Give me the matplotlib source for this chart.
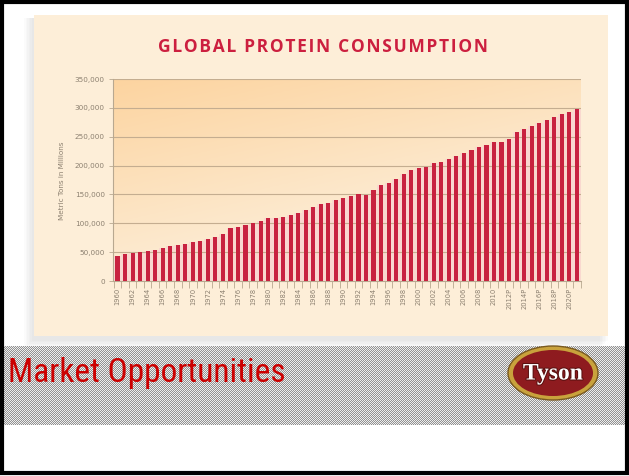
import numpy as np
import matplotlib
matplotlib.use("Agg")
import matplotlib.pyplot as plt
import matplotlib.patches as patches
import matplotlib.patheffects as pe

# data
years = list(range(1960, 2022))
consumption = [
    44000, 46500, 48500, 49500, 51500, 54500, 57500, 60500, 63000, 64500,
    68000, 70000, 73500, 76500, 81500, 92000, 93000, 97000, 100000, 104500,
    108500, 110000, 111500, 114000, 117000, 122500, 127500, 133000, 135500, 139500,
    144500, 148000, 150500, 149500, 158000, 167000, 169500, 177500, 185000, 193000,
    195500, 197500, 204500, 207000, 211000, 217000, 222000, 226500, 233000, 235000,
    241500, 241500, 246000, 258500, 263500, 269000, 273500, 279000, 284000, 289000,
    293500, 298000,
]
tick_labels = [str(y) for y in range(1960, 2011, 2)] + ["2012P", "2014P", "2016P", "2018P", "2020P"]
y_ticks = [0, 50000, 100000, 150000, 200000, 250000, 300000, 350000]

title = "GLOBAL PROTEIN CONSUMPTION"
y_label = "Metric Tons in Millions"
slide_title = "Market Opportunities"

W, H = 629, 476
fig = plt.figure(figsize=(W / 100, H / 100), dpi=100)
fig.patch.set_facecolor("white")

# slide layer in pixel coordinates
bg = fig.add_axes([0, 0, 1, 1])
bg.set_xlim(0, W)
bg.set_ylim(H, 0)
bg.axis("off")

# soft shadow of the chart picture
for k in range(6):
    bg.add_patch(patches.Rectangle((34 - 10 + k * 1.6, 18), 576, 321 + 9 - k * 1.4,
                                   facecolor="#909090", alpha=0.035, lw=0, zorder=1))
bg.add_patch(patches.Rectangle((34, 15), 574, 321, facecolor="#fdeed8", lw=0, zorder=2))

# grey dithered band
band_top, band_bot = 346, 425
bh, bw = band_bot - band_top, W - 6
checker = (np.indices((bh, bw)).sum(axis=0) % 2).astype(float)
bg.imshow(checker, cmap="gray", vmin=-1.6, vmax=1.2, interpolation="nearest",
          extent=(3, 3 + bw, band_bot, band_top), aspect="auto", zorder=3)
bg.text(8, 382, slide_title, color="#cc0000", fontsize=24, va="baseline", ha="left",
        family=["Liberation Sans Narrow", "DejaVu Sans Condensed", "Roboto Condensed", "Liberation Sans"],
        zorder=5)

# logo
bg.add_patch(patches.Ellipse((553, 373), 90, 54, facecolor="#c9a23c", edgecolor="#7a5a20", lw=1, zorder=4))
bg.add_patch(patches.Ellipse((553, 373), 80, 46, facecolor="#8e1b1f", lw=0, zorder=5))
bg.text(553, 374, "Tyson", color="white", fontsize=17, fontweight="bold", ha="center", va="center",
        family=["Liberation Serif", "DejaVu Serif"], zorder=6,
        path_effects=[pe.withStroke(linewidth=1.5, foreground="#5a1010")])

# slide border
bg.add_patch(patches.Rectangle((1.5, 1.5), W - 4, H - 5, facecolor="none", edgecolor="black", lw=3, zorder=10))

# chart title, letter-spaced
spaced = "\u200a".join(title)
bg.text(323, 47, spaced, color="#cc1f3f", fontsize=12.5, fontweight="bold",
        ha="center", va="center", family=["Open Sans", "DejaVu Sans"], zorder=5)
bg.text(62, 181, y_label, color="#8c8070", fontsize=5.2, rotation=90, ha="center", va="center", zorder=5)

# chart axes
left, right, top, bottom = 113, 581, 79, 281
ax = fig.add_axes([left / W, 1 - bottom / H, (right - left) / W, (bottom - top) / H])
ax.set_xlim(-0.6, len(years) - 0.45)
ax.set_ylim(0, 350000)
ax.patch.set_alpha(0)

# gradient wash of the plot area
gy, gx = np.mgrid[0:1:100j, 0:1:200j]
t = np.clip((1 - gy) * 0.85 - gx * 0.45 + 0.15, 0, 1)
c0 = np.array([253, 240, 221]) / 255
c1 = np.array([252, 212, 160]) / 255
grad = c0 + (c1 - c0) * t[..., None]
ax.imshow(grad, extent=(-0.6, len(years) - 0.45, 0, 350000), aspect="auto", origin="upper", zorder=0)

x = np.arange(len(years))
ax.bar(x, consumption, width=1.0, color="#f9d8cf", zorder=1)
for yv in y_ticks[1:]:
    ax.axhline(yv, color="#c4ad90", lw=0.8, zorder=2)
ax.bar(x, consumption, width=0.55, color="#c8223f", zorder=3)

for s in ["top", "right"]:
    ax.spines[s].set_visible(False)
ax.spines["left"].set_color("#b8a890")
ax.spines["bottom"].set_color("#b8a890")
ax.spines["left"].set_linewidth(0.8)
ax.spines["bottom"].set_linewidth(0.8)

ax.set_yticks(y_ticks)
ax.set_yticklabels(["{:,}".format(v) for v in y_ticks], fontsize=5.2, color="#8c8070")
ax.tick_params(axis="y", length=3, color="#b8a890", width=0.6, pad=3)

ax.set_xticks(x[::2])
ax.set_xticklabels(tick_labels, rotation=90, fontsize=4.9, color="#8c8070")
ax.set_xticks(np.arange(len(years) + 1) - 0.5, minor=True)
ax.tick_params(axis="x", which="major", length=0, pad=5)
ax.tick_params(axis="x", which="minor", length=5, color="#b8a890", width=0.6)

fig.savefig("out.png", dpi=100)
